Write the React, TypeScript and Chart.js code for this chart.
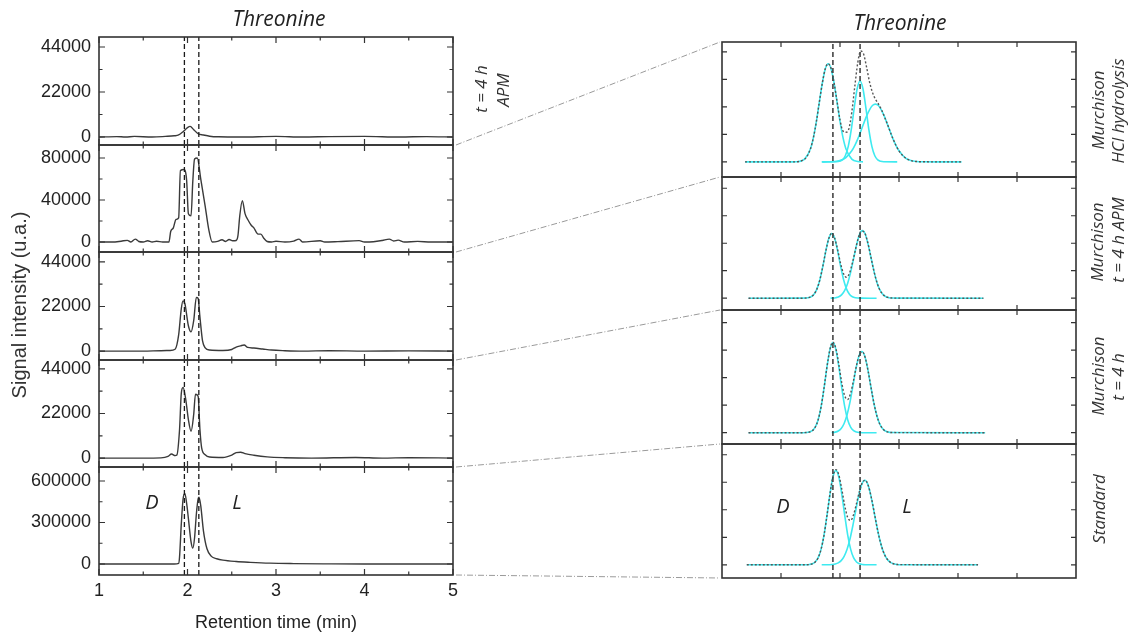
import React, { useEffect, useRef } from "react";
import { Chart, registerables } from "chart.js";

Chart.register(...registerables);

// ================= LEFT: chromatograms (retention time, min / signal, u.a.) =================
const retentionTicks = [1, 2, 3, 4, 5];
const retentionMinorTicks = [1.5, 2.5, 3.5, 4.5];
const enantiomerMarkers = [1.965, 2.128];

const apmTime = [1.0, 1.2, 1.3, 1.4, 1.6, 1.75, 1.85, 1.9, 1.95, 2.0, 2.03, 2.07, 2.12, 2.18, 2.25, 2.35, 2.6, 3.0, 3.3, 3.6, 4.0, 4.4, 4.7, 5.0];
const apmSignal = [0, 200, 0, 300, 0, 300, 600, 1000, 2600, 4600, 5200, 3600, 1600, 1000, 400, 100, 0, 300, 0, 200, 300, 0, 200, 0];

const hclTime = [1.0, 1.15, 1.25, 1.32, 1.36, 1.41, 1.45, 1.5, 1.55, 1.6, 1.65, 1.72, 1.79, 1.81, 1.84, 1.87, 1.9, 1.92, 1.96, 1.99, 2.01, 2.04, 2.06, 2.08, 2.11, 2.15, 2.2, 2.24, 2.28, 2.34, 2.39, 2.43, 2.47, 2.51, 2.55, 2.57, 2.59, 2.62, 2.65, 2.69, 2.72, 2.75, 2.78, 2.8, 2.83, 2.86, 2.9, 2.95, 3.0, 3.1, 3.2, 3.26, 3.3, 3.5, 3.55, 3.7, 3.94, 4.0, 4.1, 4.2, 4.28, 4.33, 4.38, 4.45, 4.6, 4.75, 5.0];
const hclSignal = [0, 0, 800, 1600, 0, 2800, 500, 0, 1200, 0, 800, 0, 0, 10000, 13500, 21500, 23000, 68000, 69000, 59000, 27000, 25000, 58000, 79000, 80000, 60000, 34000, 12000, 0, 600, 2200, 500, 2400, 1200, 1500, 6000, 24500, 39400, 27000, 20000, 16000, 13500, 9000, 7500, 7500, 3800, 500, 0, 800, 0, 900, 2800, 0, 1200, 0, 400, 1300, 0, 300, 1500, 2800, 1000, 1800, 0, 600, 0, 0];

const apm4hTime = [1.0, 1.5, 1.7, 1.8, 1.86, 1.9, 1.93, 1.95, 1.97, 2.01, 2.04, 2.07, 2.1, 2.12, 2.14, 2.17, 2.2, 2.25, 2.4, 2.5, 2.55, 2.6, 2.64, 2.68, 2.75, 2.85, 2.95, 3.1, 3.3, 3.6, 4.0, 4.5, 5.0];
const apm4hSignal = [0, 0, 200, 300, 900, 8000, 21000, 24800, 23500, 12500, 9500, 15000, 26500, 26000, 17000, 5000, 1600, 500, 300, 800, 2000, 2600, 3000, 1800, 1500, 1000, 500, 200, 0, 200, 0, 100, 0];

const raw4hTime = [1.0, 1.5, 1.7, 1.78, 1.82, 1.86, 1.88, 1.91, 1.93, 1.95, 1.98, 2.01, 2.04, 2.07, 2.09, 2.12, 2.14, 2.16, 2.2, 2.25, 2.4, 2.5, 2.55, 2.6, 2.65, 2.75, 2.9, 3.1, 3.4, 3.9, 4.2, 4.5, 5.0];
const raw4hSignal = [0, 0, 100, 800, 2000, 1200, 1500, 14000, 32000, 34800, 29000, 19000, 13200, 21500, 31500, 30500, 14500, 5000, 1600, 500, 300, 1500, 2700, 2900, 2200, 1400, 600, 200, 0, 300, 0, 200, 0];

const standardTime = [1.0, 1.85, 1.9, 1.91, 1.93, 1.95, 1.97, 1.99, 2.01, 2.04, 2.06, 2.08, 2.1, 2.12, 2.13, 2.15, 2.18, 2.22, 2.27, 2.33, 2.4, 2.55, 2.71, 2.93, 3.2, 3.6, 4.0, 5.0];
const standardSignal = [0, 0, 5000, 50000, 290000, 470000, 510000, 440000, 330000, 160000, 115000, 190000, 360000, 470000, 482000, 420000, 240000, 110000, 55000, 38000, 28000, 18000, 12000, 6000, 3000, 1000, 0, 0];

const ticks44k = [0, 22000, 44000];
const minor44k = [11000, 33000];
const ticks80k = [0, 40000, 80000];
const minor80k = [20000, 60000];
const ticks600k = [0, 300000, 600000];
const minor600k = [150000, 450000];

// ================= RIGHT: peak fits (arbitrary units) =================
const fitAxisTicks = [1, 2, 3, 4, 5];
const fitIntensityTicks = [0, 1, 2, 3, 4];
const fitMarkers = [1.88, 2.34];

// Murchison HCl hydrolysis
const hclDataU = [0.39, 1.2, 1.4, 1.5, 1.55, 1.6, 1.65, 1.7, 1.75, 1.8, 1.85, 1.9, 1.95, 2.0, 2.05, 2.1, 2.15, 2.2, 2.25, 2.3, 2.35, 2.4, 2.45, 2.5, 2.55, 2.6, 2.65, 2.7, 2.8, 2.9, 3.0, 3.1, 3.2, 3.3, 3.4, 4.06];
const hclDataI = [0, 0, 0.10, 0.48, 0.89, 1.47, 2.18, 2.86, 3.38, 3.57, 3.39, 2.87, 2.20, 1.53, 1.12, 1.08, 1.2, 1.81, 2.73, 3.59, 4.03, 3.92, 3.45, 2.91, 2.53, 2.28, 2.11, 1.91, 1.39, 0.83, 0.40, 0.16, 0.05, 0.013, 0.003, 0];
const hclPeak1U = [0.39, 1.2, 1.3, 1.4, 1.5, 1.55, 1.6, 1.65, 1.7, 1.75, 1.8, 1.85, 1.9, 1.95, 2.0, 2.05, 2.1, 2.2, 2.3, 2.39];
const hclPeak1I = [0, 0.001, 0.014, 0.10, 0.48, 0.89, 1.47, 2.17, 2.86, 3.38, 3.57, 3.38, 2.86, 2.17, 1.47, 0.89, 0.48, 0.10, 0.014, 0.001];
const hclPeak2U = [1.69, 1.94, 1.99, 2.04, 2.09, 2.14, 2.19, 2.24, 2.29, 2.34, 2.39, 2.44, 2.49, 2.54, 2.59, 2.64, 2.69, 2.74, 2.97];
const hclPeak2I = [0, 0.004, 0.019, 0.071, 0.222, 0.563, 1.16, 1.945, 2.651, 2.94, 2.651, 1.945, 1.16, 0.563, 0.222, 0.071, 0.019, 0.004, 0];
const hclPeak3U = [1.7, 1.8, 1.9, 2.0, 2.1, 2.2, 2.25, 2.3, 2.35, 2.4, 2.45, 2.5, 2.55, 2.6, 2.65, 2.7, 2.75, 2.8, 2.85, 2.9, 2.95, 3.0, 3.1, 3.2, 3.3, 3.4, 3.6, 4.06];
const hclPeak3I = [0.001, 0.003, 0.013, 0.051, 0.159, 0.402, 0.592, 0.829, 1.101, 1.389, 1.664, 1.894, 2.05, 2.1, 2.05, 1.894, 1.664, 1.389, 1.101, 0.829, 0.592, 0.402, 0.159, 0.051, 0.013, 0.003, 0, 0];

// Murchison t = 4 h APM
const apmDataU = [0.45, 1.36, 1.46, 1.51, 1.56, 1.61, 1.66, 1.71, 1.76, 1.81, 1.86, 1.91, 1.96, 2.01, 2.06, 2.11, 2.16, 2.21, 2.26, 2.31, 2.36, 2.41, 2.46, 2.51, 2.56, 2.61, 2.66, 2.71, 2.76, 2.81, 2.91, 4.43];
const apmDataI = [0, 0, 0.016, 0.053, 0.144, 0.34, 0.68, 1.17, 1.72, 2.17, 2.36, 2.18, 1.76, 1.26, 0.89, 0.76, 0.91, 1.28, 1.75, 2.19, 2.44, 2.41, 2.11, 1.64, 1.13, 0.69, 0.37, 0.18, 0.076, 0.028, 0.003, 0];
const apmPeak1U = [0.45, 1.36, 1.46, 1.51, 1.56, 1.61, 1.66, 1.71, 1.76, 1.81, 1.86, 1.91, 1.96, 2.01, 2.06, 2.11, 2.16, 2.21, 2.26, 2.36, 2.62];
const apmPeak1I = [0, 0.001, 0.016, 0.053, 0.144, 0.34, 0.68, 1.17, 1.72, 2.17, 2.35, 2.17, 1.72, 1.17, 0.68, 0.34, 0.144, 0.053, 0.016, 0.001, 0];
const apmPeak2U = [1.84, 1.88, 1.93, 1.98, 2.03, 2.08, 2.13, 2.18, 2.23, 2.28, 2.33, 2.38, 2.43, 2.48, 2.53, 2.58, 2.63, 2.68, 2.73, 2.78, 2.83, 2.88, 2.98, 4.43];
const apmPeak2I = [0.003, 0.006, 0.019, 0.052, 0.128, 0.28, 0.545, 0.94, 1.43, 1.93, 2.32, 2.46, 2.32, 1.93, 1.43, 0.94, 0.545, 0.28, 0.128, 0.052, 0.019, 0.006, 0.001, 0];

// Murchison t = 4 h
const rawDataU = [0.45, 1.38, 1.43, 1.48, 1.53, 1.58, 1.63, 1.68, 1.73, 1.78, 1.83, 1.88, 1.93, 1.98, 2.03, 2.08, 2.13, 2.18, 2.23, 2.28, 2.33, 2.38, 2.43, 2.48, 2.53, 2.58, 2.63, 2.68, 2.73, 2.78, 2.83, 2.88, 4.46];
const rawDataI = [0, 0.001, 0.006, 0.023, 0.073, 0.2, 0.47, 0.95, 1.63, 2.4, 3.03, 3.29, 3.06, 2.48, 1.81, 1.34, 1.21, 1.44, 1.91, 2.45, 2.84, 2.94, 2.71, 2.2, 1.59, 1.02, 0.58, 0.29, 0.13, 0.051, 0.018, 0.006, 0];
const rawPeak1U = [0.45, 1.38, 1.43, 1.48, 1.53, 1.58, 1.63, 1.68, 1.73, 1.78, 1.83, 1.88, 1.93, 1.98, 2.03, 2.08, 2.13, 2.18, 2.23, 2.28, 2.33, 2.38, 2.62];
const rawPeak1I = [0, 0.001, 0.006, 0.023, 0.073, 0.2, 0.47, 0.95, 1.63, 2.4, 3.03, 3.28, 3.03, 2.4, 1.63, 0.95, 0.47, 0.2, 0.073, 0.023, 0.006, 0.001, 0];
const rawPeak2U = [1.86, 1.92, 1.97, 2.02, 2.07, 2.12, 2.17, 2.22, 2.27, 2.32, 2.37, 2.42, 2.47, 2.52, 2.57, 2.62, 2.67, 2.72, 2.77, 2.82, 2.87, 4.46];
const rawPeak2I = [0.005, 0.022, 0.062, 0.153, 0.336, 0.65, 1.12, 1.71, 2.32, 2.78, 2.95, 2.78, 2.32, 1.71, 1.12, 0.65, 0.336, 0.153, 0.062, 0.022, 0.007, 0];

// Standard
const stdDataU = [0.42, 1.43, 1.48, 1.53, 1.58, 1.63, 1.68, 1.73, 1.78, 1.83, 1.88, 1.93, 1.98, 2.03, 2.08, 2.13, 2.18, 2.23, 2.28, 2.33, 2.38, 2.43, 2.48, 2.53, 2.58, 2.63, 2.68, 2.73, 2.78, 2.83, 2.88, 2.93, 2.98, 4.34];
const stdDataI = [0, 0.003, 0.01, 0.035, 0.102, 0.259, 0.571, 1.09, 1.8, 2.57, 3.2, 3.46, 3.27, 2.75, 2.15, 1.72, 1.61, 1.82, 2.23, 2.67, 2.99, 3.07, 2.87, 2.45, 1.9, 1.34, 0.86, 0.5, 0.27, 0.13, 0.057, 0.023, 0.008, 0];
const stdPeak1U = [0.42, 1.43, 1.48, 1.53, 1.58, 1.63, 1.68, 1.73, 1.78, 1.83, 1.88, 1.93, 1.98, 2.03, 2.08, 2.13, 2.18, 2.23, 2.28, 2.33, 2.38, 2.43, 2.62];
const stdPeak1I = [0, 0.003, 0.01, 0.035, 0.102, 0.259, 0.571, 1.09, 1.8, 2.57, 3.19, 3.43, 3.19, 2.57, 1.8, 1.09, 0.571, 0.259, 0.102, 0.035, 0.01, 0.003, 0];
const stdPeak2U = [1.69, 1.82, 1.87, 1.92, 1.97, 2.02, 2.07, 2.12, 2.17, 2.22, 2.27, 2.32, 2.37, 2.42, 2.47, 2.52, 2.57, 2.62, 2.67, 2.72, 2.77, 2.82, 2.87, 2.92, 2.97, 3.02, 4.34];
const stdPeak2I = [0, 0.003, 0.01, 0.028, 0.068, 0.151, 0.306, 0.564, 0.947, 1.446, 2.01, 2.54, 2.93, 3.07, 2.93, 2.54, 2.01, 1.446, 0.947, 0.564, 0.306, 0.151, 0.068, 0.028, 0.01, 0.003, 0];

// ================= styling =================
const FONT_SANS = "'Liberation Sans', Arial, Helvetica, sans-serif";
const FONT_ITALIC = "'Open Sans', 'DejaVu Sans', sans-serif";
const INK = "#333333";
const CYAN = "#3eeaf0";

type Frame = { xMajor: number[]; xMinor: number[]; yMajor: number[]; yMinor: number[]; major: number; minor: number };

function makeFrame(f: Frame) {
  return {
    id: "frame",
    afterDraw(chart: any) {
      const { ctx, chartArea: a, scales } = chart;
      const xs = scales.x;
      const ys = scales.y;
      ctx.save();
      ctx.strokeStyle = INK;
      ctx.lineWidth = 1.2;
      ctx.beginPath();
      const vt = (vals: number[], len: number) =>
        vals.forEach((v) => {
          const p = xs.getPixelForValue(v);
          ctx.moveTo(p, a.bottom);
          ctx.lineTo(p, a.bottom - len);
          ctx.moveTo(p, a.top);
          ctx.lineTo(p, a.top + len);
        });
      const ht = (vals: number[], len: number) =>
        vals.forEach((v) => {
          const p = ys.getPixelForValue(v);
          ctx.moveTo(a.left, p);
          ctx.lineTo(a.left + len, p);
          ctx.moveTo(a.right, p);
          ctx.lineTo(a.right - len, p);
        });
      vt(f.xMajor, f.major);
      vt(f.xMinor, f.minor);
      ht(f.yMajor, f.major);
      ht(f.yMinor, f.minor);
      ctx.stroke();
      ctx.lineWidth = 1.6;
      ctx.strokeRect(a.left, a.top, a.right - a.left, a.bottom - a.top);
      ctx.restore();
    },
  };
}

type LeftPanel = { time: number[]; signal: number[]; min: number; max: number; major: number[]; minor: number[]; top: number; bottom: number };

const leftPanels: LeftPanel[] = [
  { time: apmTime, signal: apmSignal, min: -3900, max: 48900, major: ticks44k, minor: minor44k, top: 37, bottom: 145 },
  { time: hclTime, signal: hclSignal, min: -9500, max: 92400, major: ticks80k, minor: minor80k, top: 145, bottom: 252 },
  { time: apm4hTime, signal: apm4hSignal, min: -4400, max: 48900, major: ticks44k, minor: minor44k, top: 252, bottom: 360 },
  { time: raw4hTime, signal: raw4hSignal, min: -4400, max: 48400, major: ticks44k, minor: minor44k, top: 360, bottom: 467 },
  { time: standardTime, signal: standardSignal, min: -79500, max: 701200, major: ticks600k, minor: minor600k, top: 467, bottom: 575 },
];

type Peak = { u: number[]; i: number[] };
type RightPanel = { dataU: number[]; dataI: number[]; peaks: Peak[]; min: number; max: number; top: number; bottom: number };

const rightPanels: RightPanel[] = [
  { dataU: hclDataU, dataI: hclDataI, peaks: [{ u: hclPeak1U, i: hclPeak1I }, { u: hclPeak2U, i: hclPeak2I }, { u: hclPeak3U, i: hclPeak3I }], min: -0.55, max: 4.36, top: 42, bottom: 177 },
  { dataU: apmDataU, dataI: apmDataI, peaks: [{ u: apmPeak1U, i: apmPeak1I }, { u: apmPeak2U, i: apmPeak2I }], min: -0.43, max: 4.41, top: 177, bottom: 310 },
  { dataU: rawDataU, dataI: rawDataI, peaks: [{ u: rawPeak1U, i: rawPeak1I }, { u: rawPeak2U, i: rawPeak2I }], min: -0.41, max: 4.46, top: 310, bottom: 444 },
  { dataU: stdDataU, dataI: stdDataI, peaks: [{ u: stdPeak1U, i: stdPeak1I }, { u: stdPeak2U, i: stdPeak2I }], min: -0.48, max: 4.39, top: 444, bottom: 578 },
];

const series = (xs: number[], ys: number[], color: string, width: number, dash: number[], order: number, smooth = true) => ({
  data: xs.map((x, k) => ({ x, y: ys[k] })),
  showLine: true,
  borderColor: color,
  borderWidth: width,
  borderDash: dash,
  pointRadius: 0,
  order,
  cubicInterpolationMode: smooth ? "monotone" : "default",
});

function leftConfig(p: LeftPanel, isBottom: boolean): any {
  return {
    type: "scatter",
    data: {
      datasets: [
        series(p.time, p.signal, "#3a3a3a", 1.4, [], 1),
        ...enantiomerMarkers.map((t) => series([t, t], [p.min, p.max], "#1a1a1a", 1.3, [5, 3], 0, false)),
      ],
    },
    options: {
      animation: false,
      responsive: false,
      events: [],
      layout: { padding: { left: 0, right: 6, top: 14, bottom: isBottom ? 0 : 14 } },
      plugins: { legend: { display: false }, tooltip: { enabled: false } },
      scales: {
        x: {
          type: "linear",
          min: 1,
          max: 5,
          display: isBottom,
          grid: { display: false, drawTicks: false },
          border: { display: false },
          afterBuildTicks: (s: any) => {
            s.ticks = retentionTicks.map((v) => ({ value: v }));
          },
          ticks: { font: { family: FONT_SANS, size: 18 }, color: "#222", padding: 5, autoSkip: false, maxRotation: 0, callback: (v: any) => String(v) },
          afterFit: (s: any) => {
            s.height = isBottom ? 50 : 0;
            s.paddingLeft = 0;
            s.paddingRight = 0;
          },
        },
        y: {
          type: "linear",
          min: p.min,
          max: p.max,
          grid: { display: false, drawTicks: false },
          border: { display: false },
          afterBuildTicks: (s: any) => {
            s.ticks = p.major.map((v) => ({ value: v }));
          },
          ticks: { font: { family: FONT_SANS, size: 18 }, color: "#222", padding: 8, autoSkip: false, callback: (v: any) => String(v) },
          afterFit: (s: any) => {
            s.width = 89;
            s.paddingTop = 0;
            s.paddingBottom = 0;
          },
        },
      },
    },
    plugins: [makeFrame({ xMajor: retentionTicks, xMinor: retentionMinorTicks, yMajor: p.major, yMinor: p.minor, major: 6, minor: 3.5 })],
  };
}

function rightConfig(p: RightPanel): any {
  return {
    type: "scatter",
    data: {
      datasets: [
        series(p.dataU, p.dataI, "#555555", 1.4, [2, 2], 0),
        ...p.peaks.map((pk) => series(pk.u, pk.i, CYAN, 1.6, [], 2)),
        ...fitMarkers.map((m) => series([m, m], [p.min, p.max], "#1a1a1a", 1.3, [5, 3], 1, false)),
      ],
    },
    options: {
      animation: false,
      responsive: false,
      events: [],
      layout: { padding: 4 },
      plugins: { legend: { display: false }, tooltip: { enabled: false } },
      scales: {
        x: { type: "linear", min: 0, max: 6, display: false },
        y: { type: "linear", min: p.min, max: p.max, display: false },
      },
    },
    plugins: [makeFrame({ xMajor: fitAxisTicks, xMinor: [], yMajor: fitIntensityTicks, yMinor: [], major: 5, minor: 3 })],
  };
}

function ChartCanvas({ left, top, width, height, make }: { left: number; top: number; width: number; height: number; make: () => any }) {
  const ref = useRef<HTMLCanvasElement | null>(null);
  useEffect(() => {
    if (!ref.current) return;
    const chart = new Chart(ref.current, make());
    return () => chart.destroy();
  }, []);
  return <canvas ref={ref} width={width} height={height} style={{ position: "absolute", left, top, width, height }} />;
}

function Txt({ x, y, children, size, italic, rotate, family, color }: any) {
  return (
    <div
      style={{
        position: "absolute",
        left: x,
        top: y,
        transform: `translate(-50%, -50%)${rotate ? ` rotate(${rotate}deg)` : ""}`,
        whiteSpace: "nowrap",
        fontSize: size,
        fontStyle: italic ? "italic" : "normal",
        fontFamily: family || FONT_SANS,
        color: color || "#222",
        lineHeight: 1,
      }}
    >
      {children}
    </div>
  );
}

const connectors = [
  [456, 145, 720, 42],
  [456, 252, 720, 177],
  [456, 360, 720, 310],
  [456, 467, 720, 444],
  [456, 575, 720, 578],
];

export default function App() {
  return (
    <div style={{ position: "fixed", left: 0, top: 0, width: 1131, height: 637, background: "#fff", overflow: "hidden" }}>
      {leftPanels.map((p, k) => {
        const isBottom = k === leftPanels.length - 1;
        const h = p.bottom - p.top;
        return (
          <ChartCanvas
            key={"l" + k}
            left={10}
            top={p.top - 14}
            width={449}
            height={isBottom ? 14 + h + 50 : h + 28}
            make={() => leftConfig(p, isBottom)}
          />
        );
      })}
      {rightPanels.map((p, k) => (
        <ChartCanvas key={"r" + k} left={718} top={p.top - 4} width={362} height={p.bottom - p.top + 8} make={() => rightConfig(p)} />
      ))}
      <svg width={1131} height={637} style={{ position: "absolute", left: 0, top: 0, pointerEvents: "none" }}>
        {connectors.map((c, k) => (
          <line key={k} x1={c[0]} y1={c[1]} x2={c[2]} y2={c[3]} stroke="#9a9a9a" strokeWidth={1} strokeDasharray="6 2 1 2" />
        ))}
      </svg>

      <Txt x={279} y={18} size={21} italic family={FONT_ITALIC}>Threonine</Txt>
      <Txt x={900} y={22} size={21} italic family={FONT_ITALIC}>Threonine</Txt>
      <Txt x={19} y={305} size={20} rotate={-90} color="#333">Signal intensity (u.a.)</Txt>
      <Txt x={276} y={622} size={18} color="#222">Retention time (min)</Txt>

      <Txt x={480} y={89} size={17} italic rotate={-90} family={FONT_ITALIC} color="#333">t = 4 h</Txt>
      <Txt x={502} y={90} size={17} italic rotate={-90} family={FONT_ITALIC} color="#333">APM</Txt>

      <Txt x={1097} y={110} size={17} italic rotate={-90} family={FONT_ITALIC} color="#333">Murchison</Txt>
      <Txt x={1117} y={111} size={17} italic rotate={-90} family={FONT_ITALIC} color="#333">HCl hydrolysis</Txt>
      <Txt x={1096} y={242} size={17} italic rotate={-90} family={FONT_ITALIC} color="#333">Murchison</Txt>
      <Txt x={1117} y={240} size={17} italic rotate={-90} family={FONT_ITALIC} color="#333">t = 4 h APM</Txt>
      <Txt x={1097} y={376} size={17} italic rotate={-90} family={FONT_ITALIC} color="#333">Murchison</Txt>
      <Txt x={1117} y={377} size={17} italic rotate={-90} family={FONT_ITALIC} color="#333">t = 4 h</Txt>
      <Txt x={1098} y={509} size={17} italic rotate={-90} family={FONT_ITALIC} color="#333">Standard</Txt>

      <Txt x={152} y={502} size={20} italic family={FONT_ITALIC}>D</Txt>
      <Txt x={237} y={502} size={20} italic family={FONT_ITALIC}>L</Txt>
      <Txt x={783} y={506} size={20} italic family={FONT_ITALIC}>D</Txt>
      <Txt x={907} y={506} size={20} italic family={FONT_ITALIC}>L</Txt>
    </div>
  );
}
